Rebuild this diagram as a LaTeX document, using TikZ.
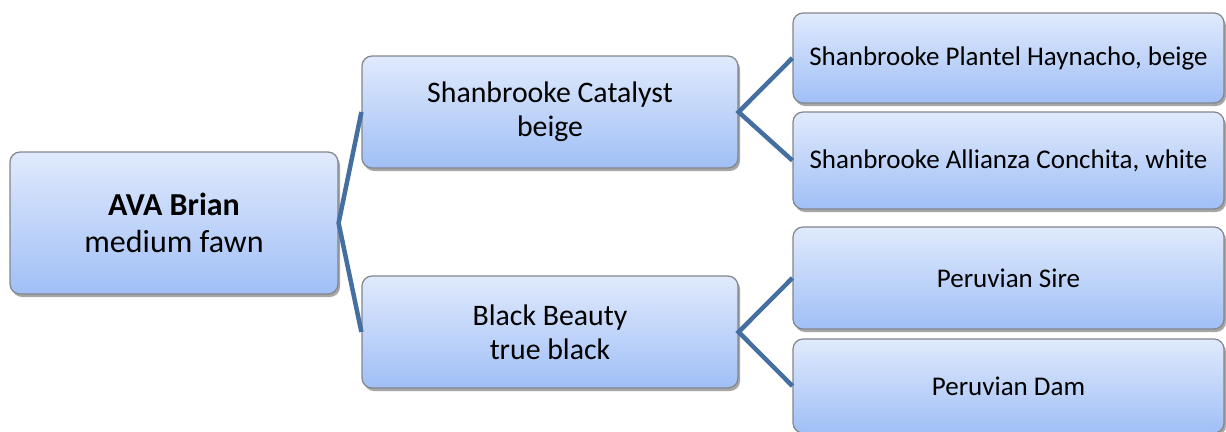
\documentclass[tikz,border=0pt]{standalone}
\usepackage{fontspec}
\setmainfont{Carlito}
\usepackage{tikz}
\usetikzlibrary{shadows}
\usetikzlibrary{calc}

\definecolor{boxtop}{RGB}{224,234,252}
\definecolor{boxbot}{RGB}{160,191,246}
\definecolor{boxline}{RGB}{130,134,140}
\definecolor{linkblue}{RGB}{68,111,160}

\tikzset{
    pedbox/.style={draw=boxline, line width=1.2pt, rounded corners=10pt,
        top color=boxtop, bottom color=boxbot, inner sep=0pt, align=center,
        drop shadow={shadow xshift=2pt, shadow yshift=-3pt, opacity=0.35, fill=black}},
    link/.style={draw=linkblue, line width=4.5pt}
}

\begin{document}
\begin{tikzpicture}[x=1pt,y=-1pt]
    \useasboundingbox (0,0) rectangle (1226,431);

    \node[pedbox, minimum width=328pt, minimum height=142pt,
        font=\fontsize{32}{37}\selectfont] (brian) at (174,223)
        {\textbf{AVA Brian}\\medium fawn};

    \node[pedbox, minimum width=376pt, minimum height=112pt,
        font=\fontsize{29.8}{34}\selectfont] (catalyst) at (550,112)
        {Shanbrooke Catalyst\\beige};
    \node[pedbox, minimum width=376pt, minimum height=112pt,
        font=\fontsize{29.8}{34}\selectfont] (beauty) at (550,332)
        {Black Beauty\\true black};

    \node[pedbox, minimum width=431pt, minimum height=90pt,
        font=\fontsize{27}{31}\selectfont] (haynacho) at (1008.5,58)
        {Shanbrooke Plantel Haynacho, beige};
    \node[pedbox, minimum width=431pt, minimum height=97pt,
        font=\fontsize{27}{31}\selectfont] (conchita) at (1008.5,160.5)
        {Shanbrooke Allianza Conchita, white};
    \node[pedbox, minimum width=431pt, minimum height=102pt,
        font=\fontsize{27}{31}\selectfont] (sire) at (1008.5,278)
        {Peruvian Sire};
    \node[pedbox, minimum width=431pt, minimum height=94pt,
        font=\fontsize{27}{31}\selectfont] (dam) at (1008.5,386)
        {Peruvian Dam};

    \draw[link] (catalyst.west) -- (brian.east) -- (beauty.west);
    \draw[link] (haynacho.west) -- (catalyst.east) -- (conchita.west);
    \draw[link] (sire.west) -- (beauty.east) -- (dam.west);
\end{tikzpicture}
\end{document}
